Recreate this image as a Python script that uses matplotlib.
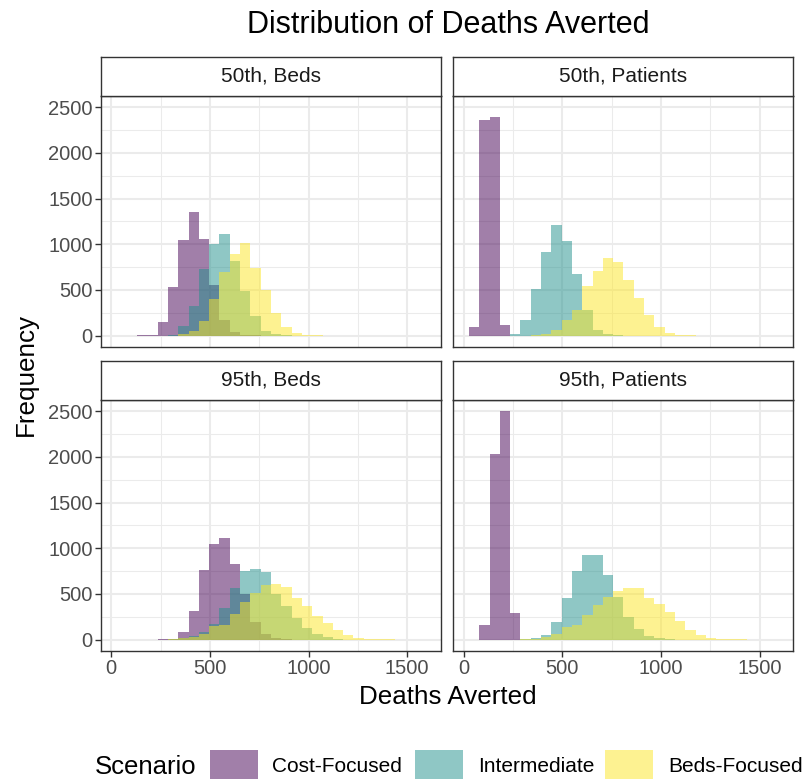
import numpy as np
import matplotlib
matplotlib.use("Agg")
import matplotlib.pyplot as plt
from matplotlib.patches import Rectangle

plt.rcParams['font.family'] = ['Liberation Sans', 'DejaVu Sans']

# ---- data: histogram counts per 52.24-wide bin (30 bins, first bin centred at 52.24) ----
BIN_WIDTH = 52.24
scenarios = ["Cost-Focused", "Intermediate", "Beds-Focused"]
panel_titles = ["50th, Beds", "50th, Patients", "95th, Beds", "95th, Patients"]
x_ticks = [0, 500, 1000, 1500]
y_ticks = [0, 500, 1000, 1500, 2000, 2500]

p50_beds_cost = [0, 0, 3, 10, 146, 530, 1044, 1356, 1054, 550, 170, 36, 8, 2, 0,
                 0, 0, 0, 0, 0, 0, 0, 0, 0, 0, 0, 0, 0, 0, 0]
p50_beds_inter = [0, 0, 0, 0, 0, 7, 100, 328, 725, 1007, 1116, 818, 491, 211, 55,
                  15, 3, 0, 0, 0, 0, 0, 0, 0, 0, 0, 0, 0, 0, 0]
p50_beds_beds = [0, 0, 0, 0, 0, 0, 18, 45, 164, 400, 691, 891, 1018, 745, 498,
                 247, 91, 29, 11, 4, 0, 0, 0, 0, 0, 0, 0, 0, 0, 0]

p50_pat_cost = [98, 2364, 2389, 120, 0, 0, 0, 0, 0, 0, 0, 0, 0, 0, 0,
                0, 0, 0, 0, 0, 0, 0, 0, 0, 0, 0, 0, 0, 0, 0]
p50_pat_inter = [0, 0, 0, 0, 20, 173, 513, 918, 1207, 1036, 673, 284, 65, 15, 3,
                 0, 0, 0, 0, 0, 0, 0, 0, 0, 0, 0, 0, 0, 0, 0]
p50_pat_beds = [0, 0, 0, 0, 0, 0, 3, 22, 65, 175, 284, 545, 709, 847, 807,
                611, 411, 229, 91, 25, 11, 4, 0, 0, 0, 0, 0, 0, 0, 0]

p95_beds_cost = [0, 0, 0, 0, 3, 7, 84, 313, 760, 1042, 1115, 831, 495, 193, 66,
                 22, 7, 0, 0, 0, 0, 0, 0, 0, 0, 0, 0, 0, 0, 0]
p95_beds_inter = [0, 0, 0, 0, 0, 3, 15, 36, 80, 175, 346, 569, 747, 776, 740,
                  500, 370, 240, 130, 60, 25, 8, 0, 0, 0, 0, 0, 0, 0, 0]
p95_beds_beds = [0, 0, 0, 0, 0, 3, 18, 30, 58, 146, 160, 275, 412, 505, 594,
                 605, 576, 459, 364, 255, 182, 109, 47, 22, 11, 4, 2, 0, 0, 0]

p95_pat_cost = [0, 164, 2027, 2497, 292, 0, 0, 0, 0, 0, 0, 0, 0, 0, 0,
                0, 0, 0, 0, 0, 0, 0, 0, 0, 0, 0, 0, 0, 0, 0]
p95_pat_inter = [0, 0, 0, 0, 0, 5, 15, 55, 193, 458, 747, 929, 922, 711, 467,
                 248, 120, 36, 12, 4, 0, 0, 0, 0, 0, 0, 0, 0, 0, 0]
p95_pat_beds = [0, 0, 0, 0, 0, 3, 11, 29, 58, 138, 157, 266, 383, 467, 529,
                565, 569, 456, 394, 303, 200, 102, 47, 22, 7, 4, 2, 0, 0, 0]

panel_counts = [
    [p50_beds_cost, p50_beds_inter, p50_beds_beds],
    [p50_pat_cost, p50_pat_inter, p50_pat_beds],
    [p95_beds_cost, p95_beds_inter, p95_beds_beds],
    [p95_pat_cost, p95_pat_inter, p95_pat_beds],
]

# ---- styling ----
colors = ["#440154", "#21908C", "#FDE725"]
ALPHA = 0.5
GRID = "#EBEBEB"
DARK = "#333333"
TICK_TXT = "#4D4D4D"

W, H = 803, 779
fig = plt.figure(figsize=(W / 100, H / 100), dpi=100)
fig.patch.set_facecolor("white")


def px_axes(x0, y0, x1, y1):
    return fig.add_axes([x0 / W, 1 - y1 / H, (x1 - x0) / W, (y1 - y0) / H])


n_bins = len(p50_beds_cost)
edges = BIN_WIDTH * (np.arange(n_bins + 1) + 0.5)
span = edges[-1] - edges[0]
xlim = (edges[0] - 0.05 * span, edges[-1] + 0.05 * span)
ymax = max(max(c) for grp in panel_counts for c in grp)
ylim = (-0.05 * ymax, 1.05 * ymax)

col_x = [(101, 441), (453.5, 793.5)]
row_y = [((57, 96), (96, 347)), ((361, 400), (400, 651))]

for idx, (title, groups) in enumerate(zip(panel_titles, panel_counts)):
    r, c = divmod(idx, 2)
    x0, x1 = col_x[c]
    (sy0, sy1), (py0, py1) = row_y[r]

    ax = px_axes(x0, py0, x1, py1)
    ax.set_xlim(*xlim)
    ax.set_ylim(*ylim)
    ax.set_facecolor("white")

    # grid: minor then major
    for v in [250, 750, 1250]:
        ax.axvline(v, color=GRID, lw=0.75, zorder=0)
    for v in [250, 750, 1250, 1750, 2250]:
        ax.axhline(v, color=GRID, lw=0.75, zorder=0)
    for v in x_ticks:
        ax.axvline(v, color=GRID, lw=1.5, zorder=0)
    for v in y_ticks:
        ax.axhline(v, color=GRID, lw=1.5, zorder=0)

    # overlapping histograms, one filled outline per scenario
    for cnt, col in zip(groups, colors):
        ax.stairs(cnt, edges, fill=True, color=col, alpha=ALPHA,
                  linewidth=0, zorder=2)

    for sp in ax.spines.values():
        sp.set_color(DARK)
        sp.set_linewidth(1.0)
        sp.set_zorder(5)

    ax.set_xticks(x_ticks)
    ax.set_yticks(y_ticks)
    ax.tick_params(axis="both", length=4, width=1.0, color=DARK,
                   labelsize=14.5, labelcolor=TICK_TXT, pad=2)
    if r == 0:
        ax.tick_params(axis="x", length=0, labelbottom=False)
    if c == 1:
        ax.tick_params(axis="y", length=0, labelleft=False)

    # facet strip
    sax = px_axes(x0, sy0, x1, sy1)
    sax.set_xticks([])
    sax.set_yticks([])
    sax.set_facecolor("white")
    for sp in sax.spines.values():
        sp.set_color(DARK)
        sp.set_linewidth(1.0)
    sax.text(0.5, 0.5, title, ha="center", va="center", fontsize=15,
             color="#1A1A1A", transform=sax.transAxes)

# titles
fig.text(448 / W, 1 - 25 / H, "Distribution of Deaths Averted", ha="center",
         va="center", fontsize=22, color="black")
fig.text(448 / W, 1 - 697 / H, "Deaths Averted", ha="center", va="center",
         fontsize=18.7, color="black")
fig.text(26 / W, 1 - 375 / H, "Frequency", ha="center", va="center",
         rotation=90, fontsize=18.7, color="black")

# legend
fig.text(95 / W, 1 - 767 / H, "Scenario", ha="left", va="center",
         fontsize=18.5, color="black")
key_x = [210, 415, 605]
text_x = [272, 478, 668]
for kx, tx, col, lab in zip(key_x, text_x, colors, scenarios):
    fig.patches.append(Rectangle((kx / W, 1 - 790 / H), 48 / W, 40 / H,
                                 transform=fig.transFigure, facecolor=col,
                                 alpha=ALPHA, edgecolor="none"))
    fig.text(tx / W, 1 - 767 / H, lab, ha="left", va="center",
             fontsize=15, color="black")

fig.savefig("out.png", dpi=100)
